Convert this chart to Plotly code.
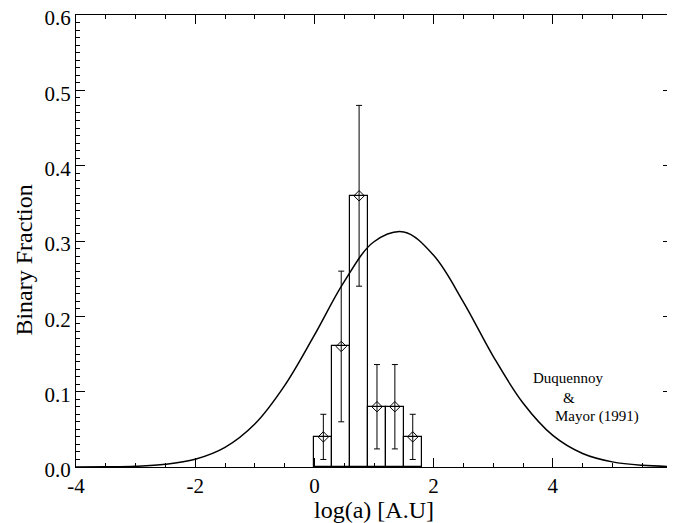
import plotly.graph_objects as go

# Histogram bins (log a, AU)
bin_left = [0.0, 0.3, 0.6, 0.9, 1.2, 1.5]
bin_width = [0.3, 0.3, 0.3, 0.3, 0.3, 0.3]
bin_center = [0.15, 0.45, 0.75, 1.05, 1.35, 1.65]
fraction = [0.04, 0.16, 0.36, 0.08, 0.08, 0.04]
frac_err = [0.03, 0.10, 0.12, 0.056, 0.056, 0.03]

# Duquennoy & Mayor (1991) curve
dm_x = [-4.0, -3.5, -3.0, -2.5, -2.0, -1.5, -1.0, -0.5, 0.0, 0.5, 1.0,
        1.5, 2.0, 2.5, 3.0, 3.5, 4.0, 4.5, 5.0, 5.5, 6.0]
dm_y = [0.0001, 0.0003, 0.0010, 0.0035, 0.0102, 0.026, 0.057, 0.108, 0.175,
        0.246, 0.299, 0.312, 0.281, 0.219, 0.147, 0.085, 0.042, 0.018,
        0.0068, 0.0022, 0.0006]

x_ticks = [-4, -2, 0, 2, 4, 6]
x_ticktext = ["-4", "-2", "0", "2", "4", "6"]
y_ticks = [0.0, 0.1, 0.2, 0.3, 0.4, 0.5, 0.6]
y_ticktext = ["0.0", "0.1", "0.2", "0.3", "0.4", "0.5", "0.6"]

FONT = "Liberation Serif, Times New Roman, serif"

fig = go.Figure()

fig.add_trace(go.Bar(
    x=bin_center, y=fraction, width=bin_width,
    marker=dict(color="rgba(0,0,0,0)", line=dict(color="black", width=1.2)),
    showlegend=False, hoverinfo="skip"))

fig.add_trace(go.Scatter(
    x=dm_x, y=dm_y, mode="lines", line=dict(color="black", width=1.5, shape="spline"),
    showlegend=False))

fig.add_trace(go.Scatter(
    x=bin_center, y=fraction, mode="markers",
    marker=dict(symbol="diamond-open", size=8, color="black", line=dict(width=1)),
    error_y=dict(type="data", array=frac_err, visible=True, color="black",
                 thickness=1, width=3),
    showlegend=False))

axis_common = dict(
    showgrid=False, zeroline=False, showline=True, linecolor="black", linewidth=1.2,
    mirror="allticks", ticks="inside", tickcolor="black", automargin=False,
    ticklabeloverflow="allow",
    tickfont=dict(family=FONT, size=21, color="black"),
)

fig.update_xaxes(
    range=[-4, 6], tickmode="array", tickvals=x_ticks, ticktext=x_ticktext, ticklen=9,
    minor=dict(ticks="inside", tickmode="linear", tick0=-4, dtick=0.5, ticklen=4,
               tickcolor="black"),
    title=dict(text="log(a) [A.U]", font=dict(family=FONT, size=24, color="black"),
               standoff=0),
    **axis_common)
fig.update_yaxes(
    range=[0, 0.6], tickmode="array", tickvals=y_ticks, ticktext=y_ticktext, ticklen=9,
    ticklabelshift=3,
    minor=dict(ticks="inside", tickmode="linear", tick0=0, dtick=0.01, ticklen=4,
               tickcolor="black"),
    **axis_common)

# y-axis title (placed slightly below the axis centre, as in the original)
fig.add_annotation(x=-0.087, y=0.457, xref="paper", yref="paper", text="Binary Fraction",
                   textangle=-90, showarrow=False, xanchor="center", yanchor="middle",
                   font=dict(family=FONT, size=24, color="black"))

ann_font = dict(family=FONT, size=15, color="black")
fig.add_annotation(x=3.64, y=0.118, text="Duquennoy", showarrow=False,
                   xanchor="left", yanchor="middle", font=ann_font)
fig.add_annotation(x=4.13, y=0.091, text="&", showarrow=False,
                   xanchor="left", yanchor="middle", font=ann_font)
fig.add_annotation(x=4.01, y=0.067, text="Mayor (1991)", showarrow=False,
                   xanchor="left", yanchor="middle", font=ann_font)

# page body adds an 8px offset; size the figure so it fits the window
fig.update_layout(
    width=667, height=515,
    margin=dict(l=68, r=3, t=7, b=56),
    plot_bgcolor="white", paper_bgcolor="white",
    bargap=0,
)

fig.write_html("out.html")
